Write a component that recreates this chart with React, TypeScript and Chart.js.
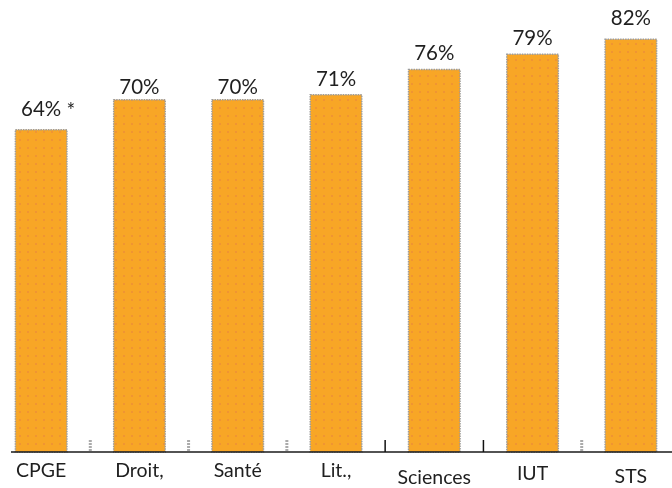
import { useEffect, useRef } from 'react';
import { Chart, registerables } from 'chart.js';

Chart.register(...registerables);

// ---- data ----
const categories = ['CPGE', 'Droit,', 'Santé', 'Lit.,', 'Sciences', 'IUT', 'STS'];
const values = [64, 70, 70, 71, 76, 79, 82];
const valueLabels = ['64%', '70%', '70%', '71%', '76%', '79%', '82%'];
const valueNotes = [' *', '', '', '', '', '', ''];

// ---- style constants ----
const LABEL_LIFT = [20, 12.5, 12.5, 15.5, 16, 16, 21];
const TICK_DROP = [0, 0, 0, 0, 7, 3, 6];
const BOUNDARY_DARK = [false, false, false, true, true, false];
const AXIS_START = 19;

function makePattern(): CanvasPattern | string {
  const c = document.createElement('canvas');
  c.width = 8;
  c.height = 8;
  const g = c.getContext('2d');
  if (!g) return '#F7A525';
  g.fillStyle = '#F8A626';
  g.fillRect(0, 0, 8, 8);
  g.fillStyle = '#F09532';
  g.fillRect(3, 3, 2, 2);
  return g.createPattern(c, 'repeat') || '#F7A525';
}

const overlay = {
  id: 'overlay',
  afterDatasetsDraw(chart: any) {
    const ctx: CanvasRenderingContext2D = chart.ctx;
    const meta = chart.getDatasetMeta(0);
    const xs = chart.scales.x;
    const bottom = chart.chartArea.bottom;
    ctx.save();
    // bar borders (dotted gray)
    meta.data.forEach((bar: any) => {
      const { x, y, base, width } = bar.getProps(['x', 'y', 'base', 'width'], true);
      ctx.setLineDash([1.5, 1]);
      ctx.strokeStyle = '#9c9c9c';
      ctx.lineWidth = 1.5;
      ctx.strokeRect(x - width / 2, y, width, base - y);
    });
    ctx.setLineDash([]);
    // axis line
    ctx.strokeStyle = '#1a1a1a';
    ctx.lineWidth = 1.5;
    ctx.beginPath();
    ctx.moveTo(AXIS_START, bottom);
    ctx.lineTo(chart.width, bottom);
    ctx.stroke();
    // boundary ticks
    for (let i = 0; i < categories.length - 1; i++) {
      const bx = (xs.getPixelForValue(i) + xs.getPixelForValue(i + 1)) / 2;
      ctx.beginPath();
      if (BOUNDARY_DARK[i]) {
        ctx.setLineDash([]);
        ctx.strokeStyle = '#111';
        ctx.lineWidth = 1.5;
      } else {
        ctx.setLineDash([2, 1]);
        ctx.strokeStyle = '#ababab';
        ctx.lineWidth = 3;
      }
      ctx.moveTo(bx, bottom - 12);
      ctx.lineTo(bx, bottom);
      ctx.stroke();
    }
    ctx.setLineDash([]);
    // value labels
    ctx.font = '20.5px Lato';
    ctx.fillStyle = '#1f1f1f';
    ctx.textBaseline = 'middle';
    meta.data.forEach((bar: any, i: number) => {
      const { x, y } = bar.getProps(['x', 'y'], true);
      const ty = y - LABEL_LIFT[i];
      ctx.textAlign = 'center';
      ctx.fillText(valueLabels[i], x, ty);
      if (valueNotes[i]) {
        const w = ctx.measureText(valueLabels[i]).width;
        ctx.textAlign = 'left';
        ctx.fillText(valueNotes[i], x + w / 2, ty + 2);
      }
    });
    ctx.restore();
  },
};

export default function App() {
  const ref = useRef<HTMLCanvasElement | null>(null);
  useEffect(() => {
    if (!ref.current) return;
    const chart = new Chart(ref.current, {
      type: 'bar',
      data: {
        labels: categories,
        datasets: [
          {
            data: values,
            backgroundColor: makePattern() as any,
            borderWidth: 0,
            barPercentage: 0.524,
            categoryPercentage: 1,
          },
        ],
      },
      options: {
        animation: false,
        responsive: true,
        maintainAspectRatio: false,
        layout: { padding: 0 },
        plugins: { legend: { display: false }, tooltip: { enabled: false } },
        scales: {
          x: {
            grid: { display: false, drawTicks: false },
            border: { display: false },
            afterFit: (scale: any) => {
              scale.height = 36;
            },
            ticks: {
              color: '#1f1f1f',
              padding: 7,
              autoSkip: false,
              maxRotation: 0,
              font: (c: any) => ({
                family: 'Lato',
                size: 19.5,
                lineHeight: `${23.4 + 2 * (TICK_DROP[c.index] || 0)}px`,
              }),
            },
          },
          y: { display: false, min: 0, max: 89.8 },
        },
      },
      plugins: [overlay],
    });
    return () => chart.destroy();
  }, []);
  return (
    <div style={{ position: 'absolute', left: 0, top: 0, width: 672, height: 488, overflow: 'hidden', background: '#fff' }}>
      <div style={{ position: 'absolute', left: -8, top: 0, width: 688, height: 488 }}>
        <canvas ref={ref} style={{ display: 'block' }} />
      </div>
    </div>
  );
}
